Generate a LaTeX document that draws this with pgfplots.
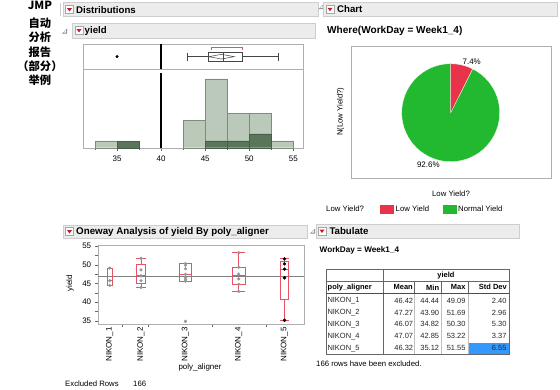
\documentclass[border=0pt]{standalone}
\usepackage{fontspec}
\setmainfont{Liberation Sans}
\newfontfamily\cjk{Noto Sans CJK SC}
\usepackage{pgfplots}
\pgfplotsset{compat=1.18}
\definecolor{hdrfill}{RGB}{236,236,236}
\definecolor{hdrline}{RGB}{205,205,205}
\definecolor{iconred}{RGB}{205,25,35}
\definecolor{histlight}{RGB}{186,201,185}
\definecolor{histdark}{RGB}{90,118,90}
\definecolor{histedge}{RGB}{125,140,125}
\definecolor{pielow}{RGB}{232,51,74}
\definecolor{pienorm}{RGB}{34,185,49}
\definecolor{boxred}{RGB}{236,80,100}
\definecolor{framegray}{RGB}{175,175,175}
\definecolor{cellblue}{RGB}{51,153,255}
\definecolor{boxgray}{RGB}{70,70,70}
\definecolor{ptgray}{RGB}{150,150,150}
\newcommand{\fs}[1]{\fontsize{#1}{#1}\selectfont}
\newcommand{\icon}[2]{%
  \draw[line width=0.5bp, draw=black!35, fill=white] (#1,#2) rectangle ++(8,8);
  \fill[iconred] ({#1+1.5},{#2+2.6}) -- ++(5,0) -- ++(-2.5,3.4) -- cycle;}
\newcommand{\disc}[2]{%
  \fill[black!45] (#1,{#2+5}) -- ++(5,0) -- ++(0,-5) -- cycle;
  \fill[white] ({#1+1.6},{#2+4}) -- ++(2.4,0) -- ++(0,-2.4) -- cycle;}
\begin{document}
\begin{tikzpicture}
\path[use as bounding box, fill=white] (0,0) rectangle (560bp,-390bp);
\begin{scope}[x=1bp,y=-1bp]
% left title
\node[font=\cjk\bfseries\fs{11.3}, anchor=base, inner sep=0] at (40,9) {JMP};
\node[font=\cjk\bfseries\fs{11.3}, anchor=base, inner sep=0] at (40,27.3) {自动};
\node[font=\cjk\bfseries\fs{11.3}, anchor=base, inner sep=0] at (40,41.5) {分析};
\node[font=\cjk\bfseries\fs{11.3}, anchor=base, inner sep=0] at (40,56.3) {报告};
\node[font=\cjk\bfseries\fs{11.3}, anchor=base, inner sep=0] at (40,70.4) {（部分）};
\node[font=\cjk\bfseries\fs{11.3}, anchor=base, inner sep=0] at (40,84.5) {举例};
% headers
\draw[hdrline] (60.5,3) -- (60.5,16);
\draw[draw=hdrline, fill=hdrfill] (63,2.5) rectangle (318,16.5);
\icon{65.5}{5.5}
\node[font=\bfseries\fs{9.7}, anchor=west, inner sep=0] at (76,9.6) {Distributions};
\disc{62}{28.5}
\draw[draw=hdrline, fill=hdrfill] (72,23) rectangle (315,38);
\icon{75}{26.5}
\node[font=\bfseries\fs{9.7}, anchor=west, inner sep=0] at (84.5,30.8) {yield};
\disc{318.5}{4}
\draw[draw=hdrline, fill=hdrfill] (323,2.5) rectangle (557,16);
\icon{326}{5.2}
\node[font=\bfseries\fs{9.7}, anchor=west, inner sep=0] at (337,9.4) {Chart};
\node[font=\bfseries\fs{10.1}, anchor=west, inner sep=0] at (327,30.8) {Where(WorkDay = Week1\_4)};
\draw[draw=hdrline, fill=hdrfill] (63.3,225) rectangle (306.7,238.3);
\icon{65.5}{227.5}
\node[font=\bfseries\fs{9.8}, anchor=west, inner sep=0] at (76,231.7) {Oneway Analysis of yield By poly\_aligner};
\disc{310}{228.5}
\draw[draw=hdrline, fill=hdrfill] (316,224) rectangle (519.3,238.3);
\icon{318}{227}
\node[font=\bfseries\fs{9.7}, anchor=west, inner sep=0] at (329.3,231.4) {Tabulate};
\node[font=\bfseries\fs{8.2}, anchor=west, inner sep=0] at (319.5,250.7) {WorkDay = Week1\_4};
% chart labels
\node[font=\fs{7.8}, rotate=90, inner sep=0] at (340.7,111.7) {N(Low Yield?)};
\node[font=\fs{7.8}, inner sep=0] at (451,193.3) {Low Yield?};
\node[font=\fs{7.8}, anchor=west, inner sep=0] at (326,209) {Low Yield?};
\fill[pielow] (380,204.5) rectangle (394,213.5);
\node[font=\fs{7.8}, anchor=west, inner sep=0] at (395.5,209) {Low Yield};
\fill[pienorm] (443.3,204.5) rectangle (456.7,213.5);
\node[font=\fs{7.8}, anchor=west, inner sep=0] at (458,209) {Normal Yield};
% oneway labels
\node[font=\fs{8}, rotate=90, inner sep=0] at (70,283.3) {yield};
\node[font=\fs{8}, inner sep=0] at (200,367.7) {poly\_aligner};
\node[font=\fs{7.8}, anchor=west, inner sep=0] at (65,384) {Excluded Rows};
\node[font=\fs{7.8}, anchor=west, inner sep=0] at (133,384) {166};
% table
\fill[cellblue] (467.7,342.7) rectangle (508.6,354.3);
\draw[black!25] (414.3,293.3) -- (414.3,354.3) (440.7,293.3) -- (440.7,354.3) (467.7,293.3) -- (467.7,354.3);
\draw[black!60] (382.7,269.3) -- (382.7,354.3);
\draw[black!60] (414.3,281) -- (414.3,293.3) (440.7,281) -- (440.7,293.3) (467.7,281) -- (467.7,293.3);
\draw[black!60] (382.7,281) -- (509,281);
\draw[black!60] (325.7,281) -- (382.7,281);
\draw[black!70, line width=0.9bp] (325.7,293.3) -- (509,293.3);
\draw[black!60] (325.7,269.3) rectangle (509,354.3);
\node[font=\bfseries\fs{7.5}, inner sep=0] at (446,275.2) {yield};
\node[font=\bfseries\fs{7.5}, anchor=west, inner sep=0] at (327.5,287.3) {poly\_aligner};
\node[font=\bfseries\fs{7.5}, anchor=east, inner sep=0] at (413,287.3) {Mean};
\node[font=\bfseries\fs{7.5}, anchor=east, inner sep=0] at (439.3,287.3) {Min};
\node[font=\bfseries\fs{7.5}, anchor=east, inner sep=0] at (465.7,287.3) {Max};
\node[font=\bfseries\fs{7.5}, anchor=east, inner sep=0] at (507,287.3) {Std Dev};
\foreach \yy/\nm/\a/\b/\c/\d in {301/NIKON\_1/46.42/44.44/49.09/2.40,
    312.7/NIKON\_2/47.27/43.90/51.69/2.96,
    324.3/NIKON\_3/46.07/34.82/50.30/5.30,
    336.3/NIKON\_4/47.07/42.85/53.22/3.37,
    348.3/NIKON\_5/46.32/35.12/51.55/6.55}{
  \node[font=\fs{7.5}, anchor=west, inner sep=0, text=black!85] at (327.3,\yy) {\nm};
  \node[font=\fs{7.5}, anchor=east, inner sep=0, text=black!85] at (413.3,\yy) {\a};
  \node[font=\fs{7.5}, anchor=east, inner sep=0, text=black!85] at (439.3,\yy) {\b};
  \node[font=\fs{7.5}, anchor=east, inner sep=0, text=black!85] at (465.7,\yy) {\c};
  \node[font=\fs{7.5}, anchor=east, inner sep=0, text=black!85] at (506.7,\yy) {\d};
}
\node[font=\fs{7.8}, anchor=west, inner sep=0] at (316,364) {166 rows have been excluded.};
\end{scope}

% ---------- Distribution (box plot + histogram)
\begin{axis}[at={(82.7bp,-147.7bp)}, anchor=south west, scale only axis,
  width=220.3bp, height=103.4bp,
  xmin=31.1, xmax=56.1, ymin=0, ymax=15.05,
  axis line style={framegray},
  xtick={35,40,45,50,55}, minor xtick={32.5,37.5,42.5,47.5,52.5},
  ytick=\empty, xtick pos=left, tick align=outside,
  major tick length=3bp, minor tick length=2.5bp,
  tick style={black!60},
  /pgf/number format/assume math mode=true,
  ticklabel style={font=\fs{8}},
  xticklabel style={yshift=-1.5bp},
  clip=false]
\addplot[ybar interval, fill=histlight, draw=histedge] coordinates {(32.5,1)(35,1)(37.5,1)};
\addplot[ybar interval, fill=histlight, draw=histedge] coordinates {(42.5,4)(45,10)(47.5,5)(50,5)(52.5,1)(55,1)};
\addplot[ybar interval, fill=histdark, draw=histdark!80!black] coordinates {(35,1)(37.5,1)};
\addplot[ybar interval, fill=histdark, draw=histdark!80!black] coordinates {(45,1)(47.5,1)(50,2)(52.5,2)};
\addplot[framegray, line width=0.6bp] coordinates {(31.1,11.41)(56.1,11.41)};
\addplot[black, line width=1.5bp] coordinates {(40,0)(40,10.83)};
\addplot[black, line width=1.5bp] coordinates {(40,11.41)(40,15.05)};
\addplot[only marks, mark=*, mark size=1.3bp, black] coordinates {(35,13.27)};
\addplot[boxgray, line width=0.6bp] coordinates {(43.0,13.27)(45.33,13.27)};
\addplot[boxgray, line width=0.6bp] coordinates {(49.2,13.27)(53.25,13.27)};
\addplot[boxgray, line width=0.6bp] coordinates {(43.0,12.62)(43.0,13.85)};
\addplot[boxgray, line width=0.6bp] coordinates {(53.25,12.62)(53.25,13.85)};
\addplot[boxgray, line width=0.6bp] coordinates {(45.33,12.58)(49.2,12.58)(49.2,13.89)(45.33,13.89)(45.33,12.58)};
\addplot[boxgray, line width=0.6bp] coordinates {(47.0,12.58)(47.0,13.89)};
\addplot[boxgray, line width=0.5bp] coordinates {(45.4,13.25)(46.85,13.59)(48.3,13.25)(46.85,12.91)(45.4,13.25)};
\addplot[boxred, line width=0.6bp] coordinates {(45.7,14.22)(45.7,14.55)(49.2,14.55)(49.2,14.22)};
\end{axis}

% ---------- Pie chart
\begin{axis}[at={(350.7bp,-178.3bp)}, anchor=south west, scale only axis,
  width=200.6bp, height=132.6bp,
  xmin=-100, xmax=100.6, ymin=-65.6, ymax=67,
  axis line style={framegray}, ticks=none, clip=false]
\fill[pienorm, draw=white, line width=0.3bp] (axis cs:0,0) -- ++(90-7.4*3.6:49bp) arc[start angle=90-7.4*3.6, end angle=-270, radius=49bp] -- cycle;
\fill[pielow, draw=white, line width=0.3bp] (axis cs:0,0) -- ++(90:49bp) arc[start angle=90, end angle=90-7.4*3.6, radius=49bp] -- cycle;
\node[font=\fs{8}, inner sep=0] at (axis cs:21,51) {7.4\%};
\node[font=\fs{8}, inner sep=0] at (axis cs:-22.4,-52.3) {92.6\%};
\end{axis}

% ---------- Oneway
\begin{axis}[at={(97.7bp,-324bp)}, anchor=south west, scale only axis,
  width=206.3bp, height=79bp,
  xmin=97.7, xmax=304, ymin=34.12, ymax=55.27,
  axis line style={framegray},
  ytick={35,40,45,50,55}, minor ytick={37.5,42.5,47.5,52.5},
  xtick={121.7,148,212.2,266.3}, xticklabels={},
  extra x ticks={109.7,141,185.5,238.7,284.5},
  extra x tick labels={NIKON\_1,NIKON\_2,NIKON\_3,NIKON\_4,NIKON\_5},
  extra x tick style={major tick length=0pt, tick label style={rotate=90, anchor=east}},
  xtick pos=left, ytick pos=left, tick align=outside,
  major tick length=3bp, minor tick length=2.5bp,
  tick style={black!60},
  /pgf/number format/assume math mode=true,
  ticklabel style={font=\fs{8}},
  unbounded coords=jump,
  clip=false]
\addplot[black!50, line width=0.7bp] coordinates {(97.7,46.95)(304,46.95)};
\addplot[only marks, mark=*, mark size=1.4bp, ptgray] coordinates {
  (109.7,49.09)(109.7,45.73)(109.7,44.44)
  (141,51.69)(141,48.6)(141,47.0)(141,45.7)(141,43.9)
  (185.5,50.3)(185.5,49.85)(185.5,48.9)(185.5,47.4)(185.5,46.6)(185.5,46.1)(185.5,45.6)(185.5,34.82)
  (238.7,53.22)(238.7,49.3)(238.7,47.5)(238.7,46.2)(238.7,44.76)(238.7,42.85)};
% NIKON_1 box
\addplot[boxred, line width=0.8bp] coordinates {
  (106.95,44.44)(112.45,44.44)(112.45,49.09)(106.95,49.09)(106.95,44.44) (nan,nan)
  (106.95,45.73)(112.45,45.73)};
% NIKON_2 box
\addplot[boxred, line width=0.8bp] coordinates {
  (136.35,45.0)(145.65,45.0)(145.65,50.1)(136.35,50.1)(136.35,45.0) (nan,nan)
  (136.35,47.0)(145.65,47.0) (nan,nan)
  (141,50.1)(141,51.69) (nan,nan) (136.35,51.69)(145.65,51.69) (nan,nan)
  (141,45.0)(141,43.9) (nan,nan) (136.35,43.9)(145.65,43.9)};
% NIKON_3 box
\addplot[boxred, line width=0.8bp] coordinates {
  (179.3,45.6)(191.7,45.6)(191.7,50.3)(179.3,50.3)(179.3,45.6) (nan,nan)
  (179.3,47.4)(191.7,47.4)};
% NIKON_4 box
\addplot[boxred, line width=0.8bp] coordinates {
  (232.35,44.76)(245.05,44.76)(245.05,49.3)(232.35,49.3)(232.35,44.76) (nan,nan)
  (232.35,47.06)(245.05,47.06) (nan,nan)
  (238.7,49.3)(238.7,53.22) (nan,nan) (232.35,53.22)(245.05,53.22) (nan,nan)
  (238.7,44.76)(238.7,42.85) (nan,nan) (232.35,42.85)(245.05,42.85)};
% NIKON_5 box
\addplot[boxred, line width=0.8bp] coordinates {
  (280.35,40.8)(288.65,40.8)(288.65,50.8)(280.35,50.8)(280.35,40.8) (nan,nan)
  (280.35,48.8)(288.65,48.8) (nan,nan)
  (284.5,50.8)(284.5,51.55) (nan,nan) (280.35,51.55)(288.65,51.55) (nan,nan)
  (284.5,40.8)(284.5,35.12) (nan,nan) (280.35,35.12)(288.65,35.12)};
\addplot[only marks, mark=*, mark size=1.5bp, black] coordinates {
  (284.5,51.55)(284.5,50.2)(284.5,48.8)(284.5,46.5)(284.5,35.12)};
\end{axis}
\end{tikzpicture}
\end{document}
